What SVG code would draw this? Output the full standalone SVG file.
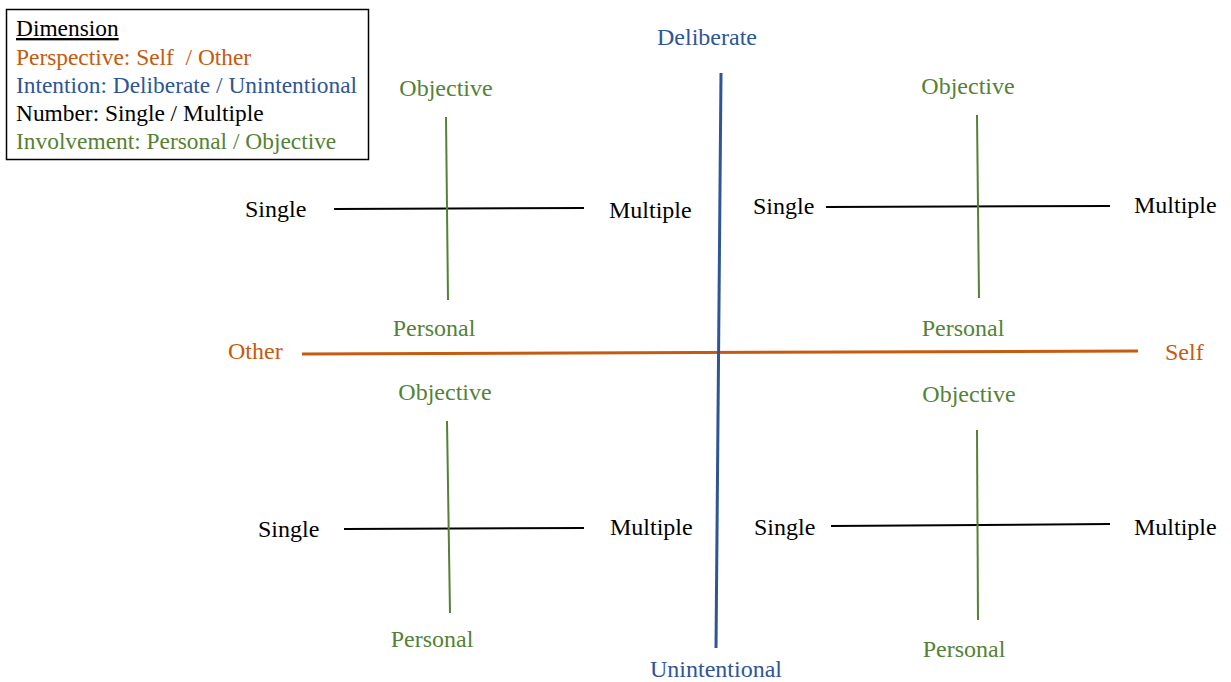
<svg xmlns="http://www.w3.org/2000/svg" width="1231" height="682" viewBox="0 0 1231 682">
<style>
text{font-family:"Liberation Serif","Times New Roman",serif;font-size:24px}
#legend text{font-size:23.4px}
.o{fill:#C55A11}.b{fill:#2F5597}.k{fill:#000}.g{fill:#548235}
.lo{stroke:#C55A11;stroke-width:3;fill:none}
.lb{stroke:#2F5597;stroke-width:3;fill:none}
.lk{stroke:#000;stroke-width:2;fill:none}
.lg{stroke:#548235;stroke-width:2;fill:none}
.m{text-anchor:middle}
</style>
<rect width="1231" height="682" fill="#fff"/>
<g id="legend">
<rect x="6.5" y="9.5" width="362" height="150" fill="#fff" stroke="#000" stroke-width="1.5"/>
<text x="16" y="36" class="k" text-decoration="underline">Dimension</text>
<text x="16" y="65" class="o">Perspective: Self &#160;/ Other</text>
<text x="16" y="93" class="b">Intention: Deliberate / Unintentional</text>
<text x="16" y="121" class="k">Number: Single / Multiple</text>
<text x="16" y="149" class="g">Involvement: Personal / Objective</text>
</g>
<g id="connectors">
<line class="lo" x1="302" y1="354" x2="1138" y2="351"/>
<line class="lb" x1="721" y1="73" x2="716" y2="648"/>
<line class="lk" x1="334" y1="209" x2="584" y2="208"/>
<line class="lg" x1="446" y1="117" x2="448" y2="300"/>
<line class="lk" x1="826" y1="207" x2="1110" y2="206"/>
<line class="lg" x1="977" y1="115" x2="979" y2="298"/>
<line class="lk" x1="344" y1="529" x2="584" y2="528"/>
<line class="lg" x1="447" y1="421" x2="450" y2="613"/>
<line class="lk" x1="831" y1="526" x2="1110" y2="524"/>
<line class="lg" x1="977" y1="430" x2="978" y2="620"/>
</g>
<g id="axis-labels">
<text x="707" y="45" class="b m">Deliberate</text>
<text x="716" y="677" class="b m">Unintentional</text>
<text x="228" y="359" class="o">Other</text>
<text x="1165" y="360" class="o">Self</text>
</g>
<g id="quadrant-tl">
<text x="446" y="96" class="g m">Objective</text>
<text x="245" y="217" class="k">Single</text>
<text x="609" y="218" class="k">Multiple</text>
<text x="434" y="336" class="g m">Personal</text>
</g>
<g id="quadrant-tr">
<text x="968" y="94" class="g m">Objective</text>
<text x="753" y="214" class="k">Single</text>
<text x="1134" y="213" class="k">Multiple</text>
<text x="963" y="336" class="g m">Personal</text>
</g>
<g id="quadrant-bl">
<text x="445" y="400" class="g m">Objective</text>
<text x="258" y="537" class="k">Single</text>
<text x="610" y="535" class="k">Multiple</text>
<text x="432" y="647" class="g m">Personal</text>
</g>
<g id="quadrant-br">
<text x="969" y="402" class="g m">Objective</text>
<text x="754" y="535" class="k">Single</text>
<text x="1134" y="535" class="k">Multiple</text>
<text x="964" y="657" class="g m">Personal</text>
</g>
</svg>
